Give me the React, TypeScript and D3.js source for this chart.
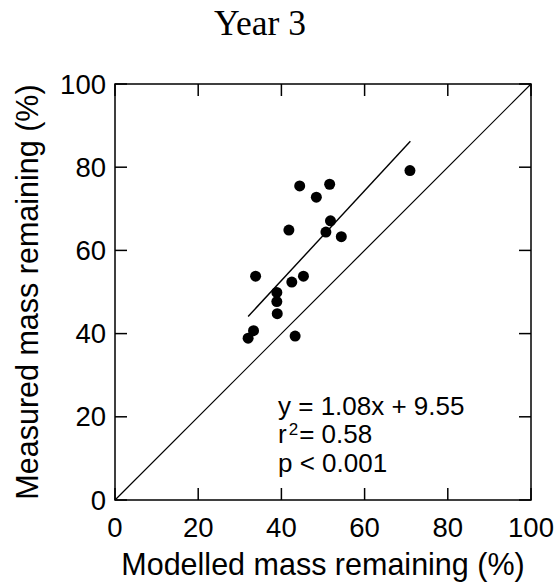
import React, { useEffect, useRef } from "react";
import * as d3 from "d3";

// values
const modelled = [44.4, 51.6, 48.4, 70.9, 51.8, 41.8, 50.7, 54.4, 33.8, 45.3, 42.5, 38.9, 38.9, 39.0, 33.3, 32.0, 43.3];
const measured = [75.5, 75.9, 72.8, 79.2, 67.1, 64.9, 64.4, 63.3, 53.8, 53.8, 52.4, 49.9, 47.7, 44.8, 40.7, 38.9, 39.4];
const tickValues = [0, 20, 40, 60, 80, 100];
const fitRange = [32, 71];
const slope = 1.08;
const intercept = 9.55;

export default function App() {
  const ref = useRef<SVGSVGElement>(null);

  useEffect(() => {
    const width = 559;
    const height = 582;
    const left = 115, right = 531, top = 84, bottom = 500;
    const sans = "'Liberation Sans', Arial, sans-serif";

    const x = d3.scaleLinear().domain([0, 100]).range([left, right]);
    const y = d3.scaleLinear().domain([0, 100]).range([bottom, top]);

    const svg = d3.select(ref.current);
    svg.selectAll("*").remove();
    svg.attr("width", width).attr("height", height);

    svg.append("rect").attr("width", width).attr("height", height).attr("fill", "#fff");

    // title
    svg
      .append("text")
      .attr("x", 260)
      .attr("y", 35)
      .attr("text-anchor", "middle")
      .attr("font-family", "'Liberation Serif', 'Times New Roman', serif")
      .attr("font-size", 35.5)
      .text("Year 3");

    // 1:1 line
    svg
      .append("line")
      .attr("x1", x(0))
      .attr("y1", y(0))
      .attr("x2", x(100))
      .attr("y2", y(100))
      .attr("stroke", "#000")
      .attr("stroke-width", 1.2);

    // regression line
    const fit = d3
      .line<number>()
      .x(d => x(d))
      .y(d => y(slope * d + intercept));
    svg
      .append("path")
      .attr("d", fit(fitRange))
      .attr("fill", "none")
      .attr("stroke", "#000")
      .attr("stroke-width", 1.4);

    // points
    svg
      .append("g")
      .selectAll("circle")
      .data(modelled)
      .join("circle")
      .attr("cx", d => x(d))
      .attr("cy", (d, i) => y(measured[i]))
      .attr("r", 5.5)
      .attr("fill", "#000");

    // frame + inward ticks on all sides
    const tickLen = 12;
    const axes = svg.append("g").attr("stroke", "#000").attr("stroke-width", 1.5);
    axes
      .append("rect")
      .attr("x", left)
      .attr("y", top)
      .attr("width", right - left)
      .attr("height", bottom - top)
      .attr("fill", "none");
    tickValues.forEach(t => {
      axes.append("line").attr("x1", x(t)).attr("x2", x(t)).attr("y1", bottom).attr("y2", bottom - tickLen);
      axes.append("line").attr("x1", x(t)).attr("x2", x(t)).attr("y1", top).attr("y2", top + tickLen);
      axes.append("line").attr("y1", y(t)).attr("y2", y(t)).attr("x1", left).attr("x2", left + tickLen);
      axes.append("line").attr("y1", y(t)).attr("y2", y(t)).attr("x1", right).attr("x2", right - tickLen);
    });

    // tick labels
    svg
      .append("g")
      .attr("font-family", sans)
      .attr("font-size", 27.5)
      .attr("text-anchor", "middle")
      .selectAll("text")
      .data(tickValues)
      .join("text")
      .attr("x", d => x(d))
      .attr("y", 537)
      .text(d => d);

    svg
      .append("g")
      .attr("font-family", sans)
      .attr("font-size", 27.5)
      .attr("text-anchor", "end")
      .selectAll("text")
      .data(tickValues)
      .join("text")
      .attr("x", left - 9)
      .attr("y", d => y(d))
      .attr("dy", "0.35em")
      .text(d => d);

    // axis titles
    svg
      .append("text")
      .attr("x", (left + right) / 2)
      .attr("y", 575)
      .attr("text-anchor", "middle")
      .attr("font-family", sans)
      .attr("font-size", 30.5)
      .text("Modelled mass remaining (%)");

    svg
      .append("text")
      .attr("transform", `translate(38,${(top + bottom) / 2}) rotate(-90)`)
      .attr("text-anchor", "middle")
      .attr("font-family", sans)
      .attr("font-size", 30.5)
      .text("Measured mass remaining (%)");

    // stats
    const stats = svg.append("g").attr("font-family", sans).attr("font-size", 26);
    stats.append("text").attr("x", 278).attr("y", 415).text(`y = ${slope}x + ${intercept}`);
    const r2 = stats.append("text").attr("x", 278).attr("y", 443);
    r2.append("tspan").text("r");
    r2.append("tspan").attr("font-size", 17).attr("dy", -8).attr("dx", 2).text("2");
    r2.append("tspan").attr("dy", 8).attr("dx", 1).text("= 0.58");
    stats.append("text").attr("x", 278).attr("y", 472).text("p < 0.001");
  }, []);

  return (
    <svg ref={ref} style={{ position: "absolute", left: 0, top: 0 }} />
  );
}
